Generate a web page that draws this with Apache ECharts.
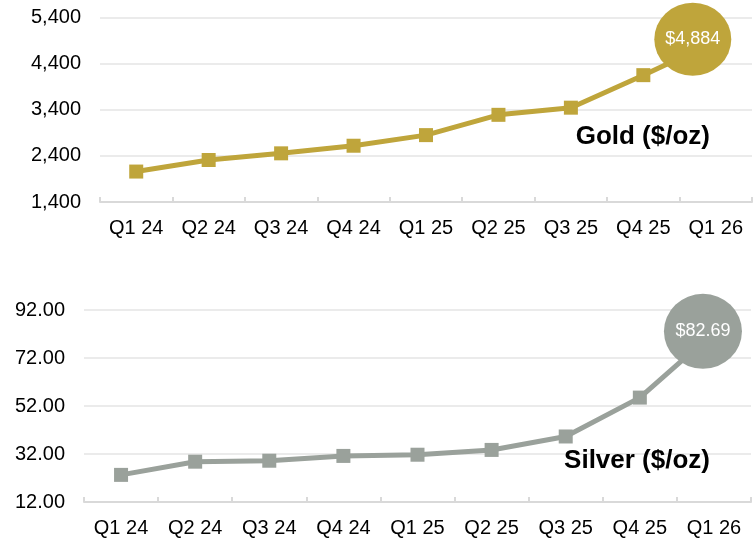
<!DOCTYPE html>
<html>
<head>
<meta charset="utf-8">
<script src="https://cdn.jsdelivr.net/npm/echarts@6/dist/echarts.min.js"></script>
<style>
html,body{margin:0;padding:0;background:#fff;}
#chart{width:753px;height:540px;}
</style>
</head>
<body>
<div id="chart"></div>
<script>
var categories = ['Q1 24','Q2 24','Q3 24','Q4 24','Q1 25','Q2 25','Q3 25','Q4 25','Q1 26'];
var goldValues = [2060, 2310, 2455, 2620, 2850, 3290, 3445, 4150, 4884];
var silverValues = [23.3, 28.8, 29.2, 31.2, 31.7, 33.7, 39.3, 55.5, 82.69];
var goldTicks = [1400, 2400, 3400, 4400, 5400];
var silverTicks = [12, 32, 52, 72, 92];
var goldTitle = 'Gold ($/oz)';
var silverTitle = 'Silver ($/oz)';

var GOLD = '#BFA53B';
var SILVER = '#9AA19B';
var FONT = 'Liberation Sans, Arial, sans-serif';

function seriesData(values, color, size, offset, fmt) {
  return values.map(function (v, i) {
    if (i === values.length - 1) {
      return {
        value: v,
        symbol: 'circle',
        symbolSize: size,
        symbolOffset: offset,
        itemStyle: { color: color },
        label: {
          show: true, position: 'inside', color: '#fff',
          fontSize: 18, fontFamily: FONT,
          formatter: function () { return fmt(v); }
        }
      };
    }
    return v;
  });
}

function yAxisFor(gridIndex, ticks, step, fmt) {
  var min = ticks[0], max = ticks[ticks.length - 1];
  var major = ticks[1] - ticks[0];
  var n = Math.round(major / step);
  var colors = ['#EBEBEB'];
  for (var i = 1; i < n; i++) colors.push('rgba(0,0,0,0)');
  return {
    type: 'value', gridIndex: gridIndex, min: min, max: max, interval: step,
    axisLine: { show: false }, axisTick: { show: false },
    splitLine: { show: true, lineStyle: { color: colors, width: 2 } },
    axisLabel: {
      margin: 19, color: '#000', fontSize: 20, fontFamily: FONT,
      formatter: function (v) {
        var k = Math.round((v - min) / major * 1000) / 1000;
        return Math.abs(k - Math.round(k)) < 1e-6 ? fmt(v) : '';
      }
    }
  };
}

function xAxisFor(gridIndex) {
  return {
    type: 'category', gridIndex: gridIndex, data: categories, boundaryGap: true,
    axisLine: { show: true, lineStyle: { color: '#D9D9D9', width: 2 } },
    axisTick: { show: true, inside: true, length: 5, alignWithLabel: false, lineStyle: { color: '#D9D9D9', width: 2 } },
    axisLabel: { margin: 16, color: '#000', fontSize: 20, fontFamily: FONT, interval: 0 },
    splitLine: { show: false }
  };
}

var chart = echarts.init(document.getElementById('chart'), null, { renderer: 'canvas' });
chart.setOption({
  animation: false,
  backgroundColor: '#fff',
  grid: [
    { left: 100, right: 1, top: 17.5, height: 184.5 },
    { left: 84, right: 2, top: 310, height: 192 }
  ],
  xAxis: [xAxisFor(0), xAxisFor(1)],
  yAxis: [
    yAxisFor(0, goldTicks, 200, function (v) { return v.toLocaleString('en-US'); }),
    yAxisFor(1, silverTicks, 4, function (v) { return v.toFixed(2); })
  ],
  series: [
    {
      type: 'line', xAxisIndex: 0, yAxisIndex: 0,
      data: seriesData(goldValues, GOLD, [77, 73], [-23, -2], function (v) { return '$' + v.toLocaleString('en-US'); }),
      symbol: 'rect', symbolSize: 14,
      lineStyle: { color: GOLD, width: 5 },
      itemStyle: { color: GOLD },
      emphasis: { disabled: true }, silent: true
    },
    {
      type: 'line', xAxisIndex: 1, yAxisIndex: 1,
      data: seriesData(silverValues, SILVER, [78, 75], [-11, -1], function (v) { return '$' + v.toFixed(2); }),
      symbol: 'rect', symbolSize: 14,
      lineStyle: { color: SILVER, width: 5 },
      itemStyle: { color: SILVER },
      emphasis: { disabled: true }, silent: true
    }
  ],
  graphic: [
    { type: 'text', z: 100, zlevel: 1, x: 710, y: 137, style: { text: goldTitle, fill: '#000', font: 'bold 26px ' + FONT, textAlign: 'right', textVerticalAlign: 'middle' } },
    { type: 'text', z: 100, zlevel: 1, x: 710, y: 461, style: { text: silverTitle, fill: '#000', font: 'bold 26px ' + FONT, textAlign: 'right', textVerticalAlign: 'middle' } }
  ]
});
</script>
</body>
</html>
